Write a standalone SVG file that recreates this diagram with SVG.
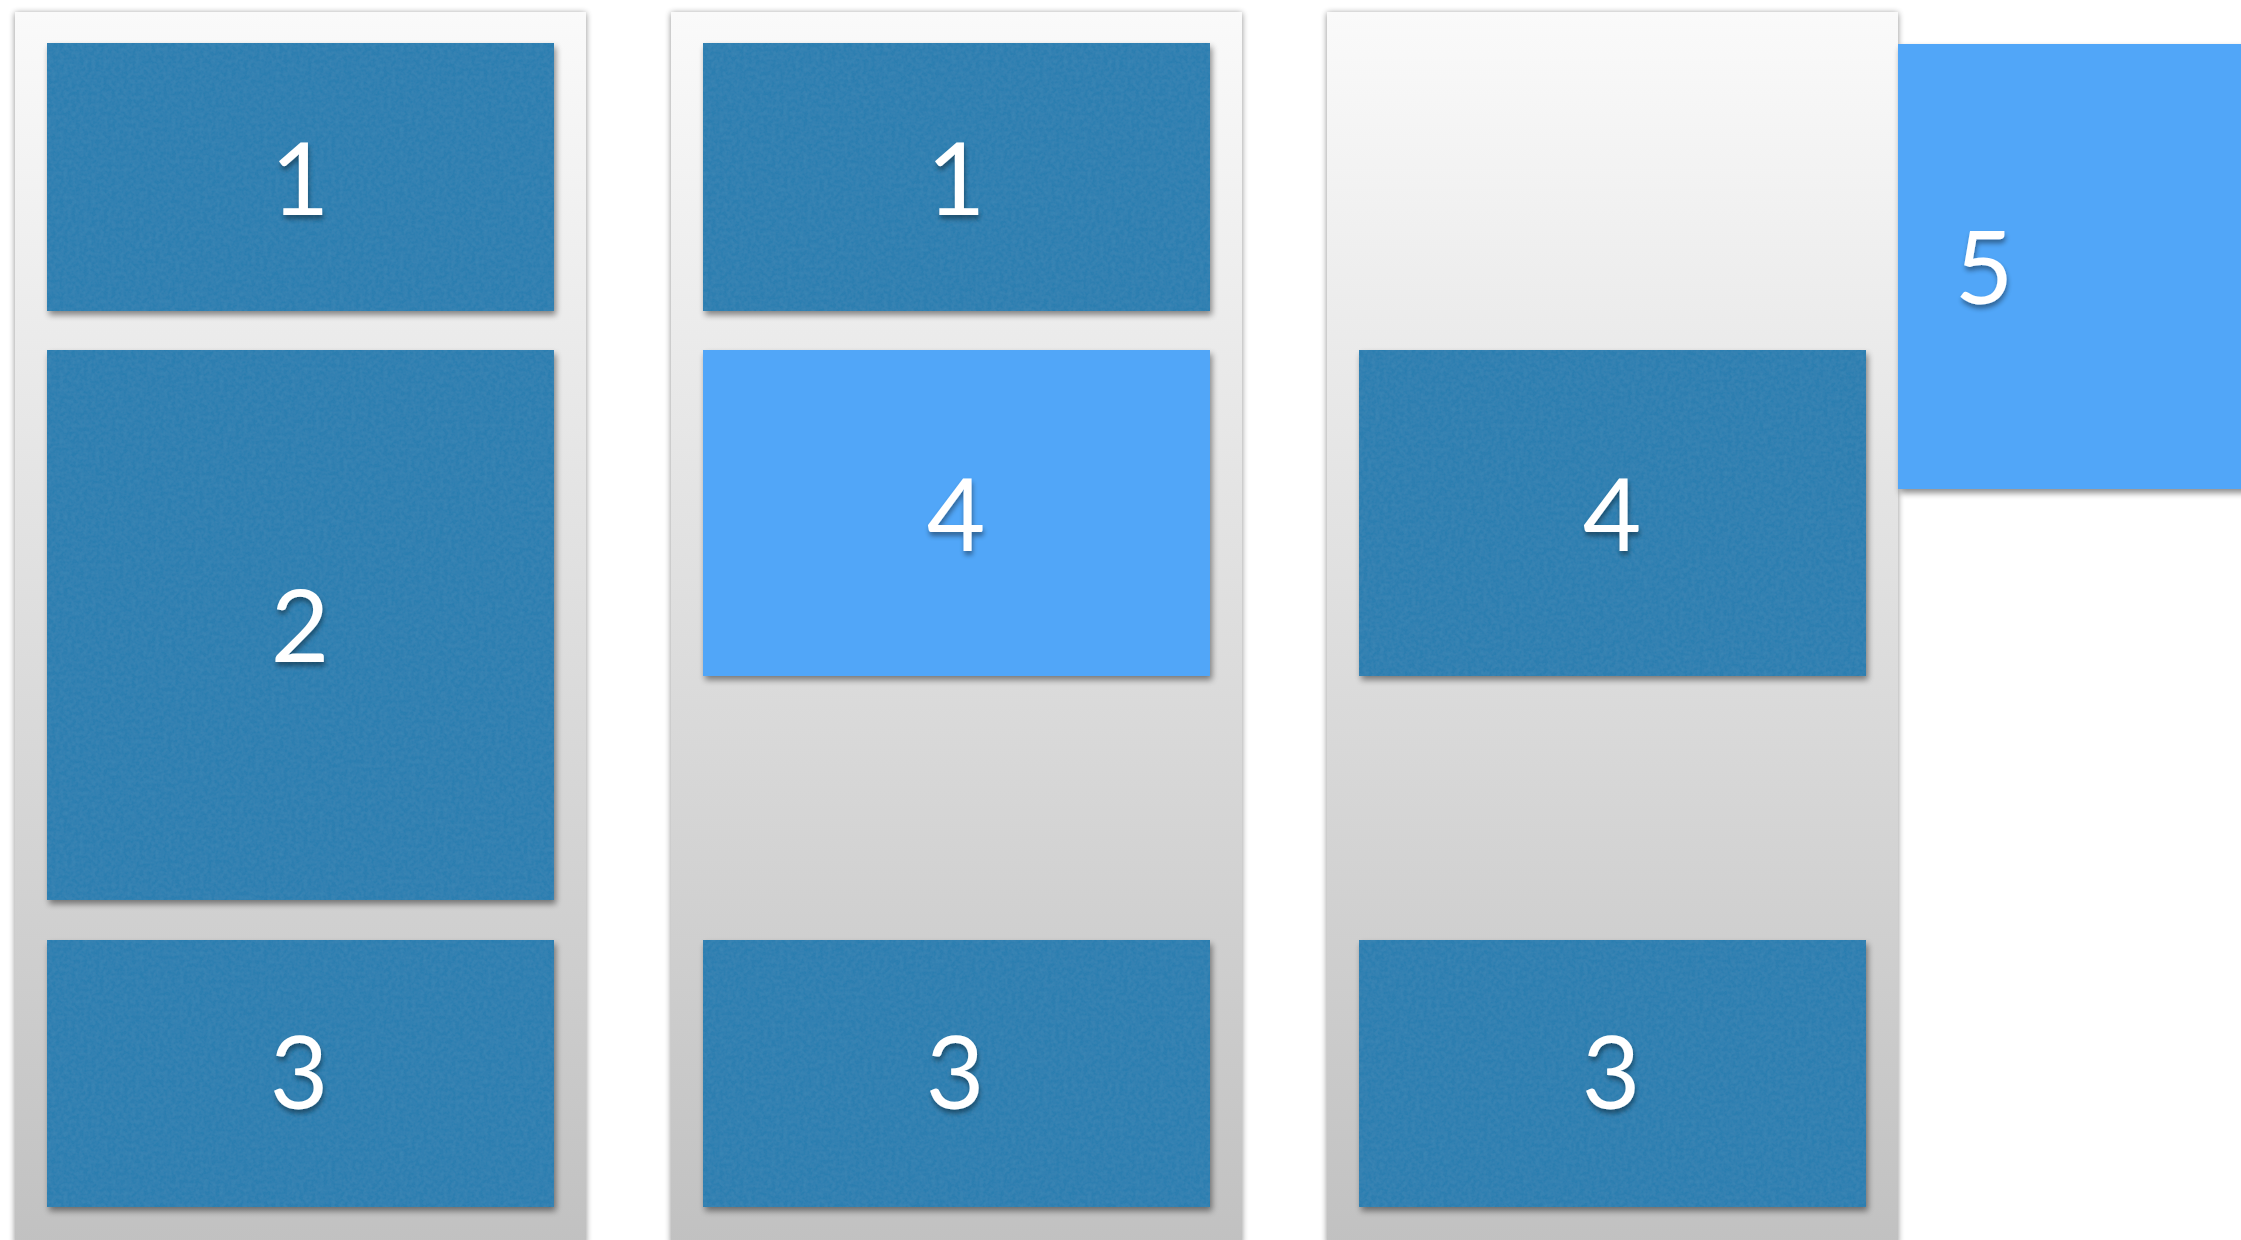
<svg xmlns="http://www.w3.org/2000/svg" width="2241" height="1240" viewBox="0 0 2241 1240">
  <defs>
    <linearGradient id="colGrad" x1="0" y1="0" x2="0" y2="1">
      <stop offset="0" stop-color="#FAFAFA"/>
      <stop offset="1" stop-color="#C1C1C1"/>
    </linearGradient>
    <filter id="colShadow" x="-5%" y="-5%" width="110%" height="110%">
      <feGaussianBlur in="SourceAlpha" stdDeviation="3"/>
      <feOffset dx="0" dy="1" result="b"/>
      <feComponentTransfer><feFuncA type="linear" slope="0.45"/></feComponentTransfer>
      <feMerge><feMergeNode/><feMergeNode in="SourceGraphic"/></feMerge>
    </filter>
    <filter id="boxShadow" x="-5%" y="-5%" width="112%" height="115%">
      <feGaussianBlur in="SourceAlpha" stdDeviation="3"/>
      <feOffset dx="2" dy="4"/>
      <feComponentTransfer><feFuncA type="linear" slope="0.45"/></feComponentTransfer>
      <feMerge><feMergeNode/><feMergeNode in="SourceGraphic"/></feMerge>
    </filter>
    <filter id="texture" x="0" y="0" width="100%" height="100%">
      <feTurbulence type="fractalNoise" baseFrequency="0.25" numOctaves="2" seed="4" result="n"/>
      <feColorMatrix in="n" type="matrix" values="0 0 0 0 0.11  0 0 0 0 0.36  0 0 0 0 0.56  0 0 0 0.35 -0.1" result="c"/>
      <feComposite in="c" in2="SourceGraphic" operator="in" result="t"/>
      <feMerge><feMergeNode in="SourceGraphic"/><feMergeNode in="t"/></feMerge>
    </filter>
    <filter id="textShadow" x="-30%" y="-30%" width="160%" height="160%">
      <feGaussianBlur in="SourceAlpha" stdDeviation="2.5"/>
      <feOffset dx="1" dy="4"/>
      <feComponentTransfer><feFuncA type="linear" slope="0.4"/></feComponentTransfer>
      <feMerge><feMergeNode/><feMergeNode in="SourceGraphic"/></feMerge>
    </filter>
  </defs>
  <style>
    .col { fill: url(#colGrad); filter: url(#colShadow); }
    .dark { fill: #2D7EB0; }
    .light { fill: #51A6F8; }
    .lbl { font-family: "Lato", "Liberation Sans", sans-serif; font-weight: 400; font-size: 101px; fill: #FFFFFF; text-anchor: middle; filter: url(#textShadow); }
  </style>
  <rect width="2241" height="1240" fill="#FFFFFF"/>

  <g id="columns">
    <rect id="column-1" class="col" x="15" y="12" width="571" height="1232"/>
    <rect id="column-2" class="col" x="671" y="12" width="571" height="1232"/>
    <rect id="column-3" class="col" x="1327" y="12" width="571" height="1232"/>
  </g>

  <g id="node-c1-1" filter="url(#boxShadow)">
    <rect class="dark" x="47" y="43" width="507" height="268" filter="url(#texture)"/>
    <text class="lbl" x="300" y="215">1</text>
  </g>
  <g id="node-c1-2" filter="url(#boxShadow)">
    <rect class="dark" x="47" y="350" width="507" height="550" filter="url(#texture)"/>
    <text class="lbl" x="300" y="662">2</text>
  </g>
  <g id="node-c1-3" filter="url(#boxShadow)">
    <rect class="dark" x="47" y="940" width="507" height="267" filter="url(#texture)"/>
    <text class="lbl" x="299" y="1109">3</text>
  </g>

  <g id="node-c2-1" filter="url(#boxShadow)">
    <rect class="dark" x="703" y="43" width="507" height="268" filter="url(#texture)"/>
    <text class="lbl" x="956" y="215">1</text>
  </g>
  <g id="node-c2-4" filter="url(#boxShadow)">
    <rect class="light" x="703" y="350" width="507" height="326"/>
    <text class="lbl" x="956" y="551">4</text>
  </g>
  <g id="node-c2-3" filter="url(#boxShadow)">
    <rect class="dark" x="703" y="940" width="507" height="267" filter="url(#texture)"/>
    <text class="lbl" x="955" y="1109">3</text>
  </g>

  <g id="node-c3-4" filter="url(#boxShadow)">
    <rect class="dark" x="1359" y="350" width="507" height="326" filter="url(#texture)"/>
    <text class="lbl" x="1612" y="551">4</text>
  </g>
  <g id="node-c3-3" filter="url(#boxShadow)">
    <rect class="dark" x="1359" y="940" width="507" height="267" filter="url(#texture)"/>
    <text class="lbl" x="1611" y="1109">3</text>
  </g>

  <g id="node-5" filter="url(#boxShadow)">
    <rect class="light" x="1898" y="44" width="360" height="445"/>
    <text class="lbl" x="1984" y="304">5</text>
  </g>

  <g id="connectors"/>
</svg>
